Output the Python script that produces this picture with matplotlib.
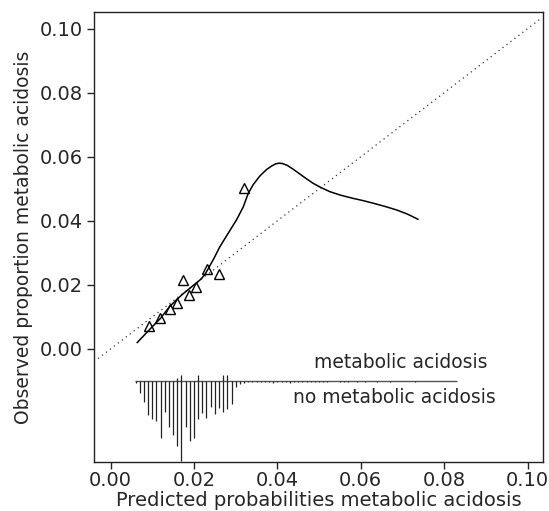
import numpy as np
import matplotlib
matplotlib.use("Agg")
import matplotlib.pyplot as plt

# grouped observed vs predicted (triangles)
grp_pred = [0.0093, 0.0119, 0.0142, 0.0160, 0.0173, 0.0189, 0.0206, 0.0231, 0.0261, 0.0321]
grp_obs = [0.0073, 0.0096, 0.0126, 0.0145, 0.0215, 0.0169, 0.0193, 0.0249, 0.0235, 0.0503]

# smoothed calibration curve
smooth_x = [0.0064, 0.0093, 0.0120, 0.0142, 0.0170, 0.0200, 0.0215, 0.0225, 0.0234,
            0.0248, 0.0262, 0.0282, 0.0302, 0.0318, 0.0330, 0.0342, 0.0358, 0.0374,
            0.0386, 0.0396, 0.0404, 0.0412, 0.0424, 0.0438, 0.0452, 0.0468, 0.0486,
            0.0506, 0.0526, 0.0552, 0.0582, 0.0606, 0.0630, 0.0658, 0.0686, 0.0712,
            0.0737]
smooth_y = [0.0020, 0.0060, 0.0096, 0.0133, 0.0168, 0.0200, 0.0216, 0.0230, 0.0250,
            0.0283, 0.0319, 0.0361, 0.0403, 0.0443, 0.0485, 0.0513, 0.0540, 0.0560,
            0.0571, 0.0578, 0.0580, 0.0579, 0.0573, 0.0561, 0.0548, 0.0533, 0.0517,
            0.0503, 0.0491, 0.0480, 0.0470, 0.0463, 0.0455, 0.0445, 0.0434, 0.0421,
            0.0405]

# distribution of predicted probabilities (bins of 0.001)
bins_no = np.round(np.arange(0.006, 0.084, 0.001), 3)
counts_no = [2, 12, 21, 34, 38, 40, 57, 31, 46, 54, 65, 80, 46, 60, 57, 38, 32, 37,
             26, 33, 27, 31, 28, 23, 6, 3,
             2, 1, 1, 1, 1, 1, 1, 2, 1, 1, 1, 2, 1, 1, 1, 1, 1, 1, 1, 1, 1, 0, 0, 1,
             1, 1, 0, 1, 0, 1, 0, 0, 1, 0, 0, 1, 0, 0, 0, 0, 0, 1, 0, 0, 0, 0, 0, 0,
             0, 0, 0, 0]
bins_yes = [0.016, 0.017, 0.021, 0.027, 0.028]
counts_yes = [3, 6, 6, 6, 6]

xlim = (-0.0039, 0.1038)
ylim = (-0.0352, 0.1052)
base = -0.01
ticks = [0.00, 0.02, 0.04, 0.06, 0.08, 0.10]

plt.rcParams['font.family'] = ['DejaVu Sans']
plt.rcParams['font.size'] = 14

fig = plt.figure(figsize=(5.49, 5.11), dpi=100)
ax = fig.add_axes([0.1718, 0.0965, 0.818, 0.88])

# ideal line
ax.plot([xlim[0] + 0.0009, 0.1035], [xlim[0] + 0.0009, 0.1035], ls=(0, (1, 3)),
        color='#333333', lw=0.9)
ax.plot(smooth_x, smooth_y, color='black', lw=1.1)
ax.plot(grp_pred, grp_obs, ls='none', marker='^', ms=6.5, mfc='none',
        mec='black', mew=1.0)

# spike histogram
scale = 0.025 / max(counts_no)
ax.hlines(base, 0.0058, 0.083, color='#555555', lw=1.0)
ax.vlines(bins_no, base, base - np.array(counts_no) * scale, color='#222222', lw=0.9)
ax.vlines(bins_yes, base, base + np.array(counts_yes) * scale, color='#222222', lw=0.9)
ax.text(0.0697, -0.0042, 'metabolic acidosis', ha='center', va='center',
        color='#262626', fontsize=13.5)
ax.text(0.0680, -0.0153, 'no metabolic acidosis', ha='center', va='center',
        color='#262626', fontsize=13.5)

ax.set_xlim(*xlim)
ax.set_ylim(*ylim)
ax.set_xticks(ticks)
ax.set_yticks(ticks)
ax.set_xticklabels(['%.2f' % t for t in ticks])
ax.set_yticklabels(['%.2f' % t for t in ticks])
ax.tick_params(direction='out', length=5, width=1, colors='#262626', pad=3)
ax.tick_params(axis='x', pad=1.5)
for s in ax.spines.values():
    s.set_color('#222222')
    s.set_linewidth(1.0)
ax.set_xlabel('Predicted probabilities metabolic acidosis', color='#262626', labelpad=1)
ax.set_ylabel('Observed proportion metabolic acidosis', color='#262626',
              fontsize=13.5, labelpad=5)

fig.savefig('out.png', dpi=100)
